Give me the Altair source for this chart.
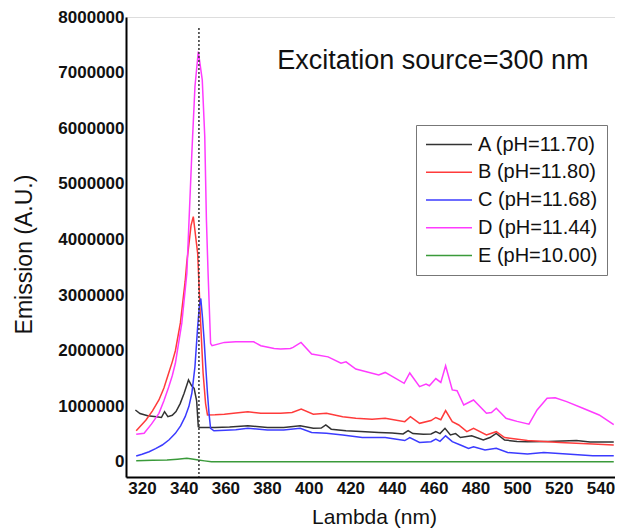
import altair as alt
import pandas as pd

# ---- data ----
series_labels = ["A (pH=11.70)", "B (pH=11.80)", "C (pH=11.68)", "D (pH=11.44)", "E (pH=10.00)"]
series_colors = ["#333333", "#ff3b3b", "#3b3bff", "#ff3bff", "#3a9a3a"]

a_lambda = [316.8, 319, 322.7, 326.9, 329.3, 330.8, 332.4, 334.5, 336.3, 338.3, 340.2, 342.3, 343.8, 345.0, 346.2, 347.0,
            347.8, 355, 362, 370.8, 380.2, 388, 395.9, 402.2, 406, 408.2, 410.8, 417.9, 425, 433.6, 440, 445.3,
            447.7, 450, 455, 458.7, 461, 463, 465.4, 468, 470.5, 472.8, 478.2, 483.8, 487, 490, 494, 500, 505,
            515, 528.5, 535, 546.4]
a_value = [0.935, 0.87, 0.83, 0.815, 0.80, 0.905, 0.815, 0.84, 0.905, 1.05, 1.235, 1.475, 1.37, 1.325, 1.1, 0.635,
           0.62, 0.62, 0.63, 0.65, 0.62, 0.62, 0.65, 0.605, 0.61, 0.665, 0.59, 0.56, 0.55, 0.53, 0.52, 0.505,
           0.565, 0.51, 0.5, 0.505, 0.545, 0.51, 0.605, 0.485, 0.51, 0.44, 0.47, 0.395, 0.44, 0.515, 0.395, 0.37,
           0.365, 0.37, 0.385, 0.36, 0.36]

b_lambda = [317.2, 321.9, 325, 328.1, 330.5, 332.8, 334.5, 336, 338.4, 340.7, 341.5, 342.3, 343.5, 344.6, 345.9,
            346.7, 348, 349.3, 350.5, 351.4, 355, 359.5, 365, 370.8, 377, 386.5, 392, 396.4, 402.2, 408.5, 416.3,
            422.6, 430.4, 436.7, 446.1, 448.8, 453.2, 458.7, 461, 463.4, 465.7, 468.9, 472, 475.9, 479.1, 485.3,
            490, 494, 505, 520.6, 536.3, 546.4]
b_value = [0.56, 0.755, 0.92, 1.115, 1.33, 1.6, 1.8, 2.0, 2.5, 3.25, 3.6, 3.85, 4.25, 4.41, 4.0,
           3.75, 2.6, 1.6, 1.05, 0.845, 0.85, 0.86, 0.88, 0.905, 0.875, 0.875, 0.89, 0.95, 0.86, 0.875, 0.815,
           0.785, 0.77, 0.785, 0.725, 0.815, 0.695, 0.745, 0.8, 0.76, 0.925, 0.725, 0.665, 0.545, 0.605, 0.485,
           0.545, 0.44, 0.385, 0.35, 0.325, 0.305]

c_lambda = [317.2, 320, 323.4, 326.5, 329.7, 333, 336, 338.5, 340.7, 342.5, 343.9, 345.4, 346.7, 347.5, 348.2, 349,
            349.8, 350.6, 351.4, 352.2, 352.9, 354.5, 360, 365, 370.8, 380.2, 388, 395.9, 401.4, 408.5, 416.3,
            425.7, 436.7, 446.1, 448.5, 453.2, 458.7, 461, 463, 465.7, 468.9, 472.8, 476.7, 479.1, 484.6, 490,
            495.5, 505, 512.8, 523.8, 536.3, 546.4]
c_value = [0.108, 0.14, 0.185, 0.24, 0.305, 0.4, 0.515, 0.65, 0.815, 1.0, 1.235, 1.715, 2.43, 2.8, 2.94, 2.6,
           2.19, 1.7, 1.235, 0.85, 0.605, 0.56, 0.57, 0.58, 0.605, 0.575, 0.575, 0.605, 0.53, 0.515, 0.485,
           0.44, 0.44, 0.385, 0.44, 0.35, 0.365, 0.41, 0.37, 0.47, 0.365, 0.305, 0.245, 0.275, 0.215, 0.245,
           0.17, 0.145, 0.17, 0.145, 0.11, 0.11]

d_lambda = [317.2, 321, 324.5, 328.1, 330.5, 332.8, 334.5, 336, 339.1, 341.5, 342.3, 343.9, 345.4, 347, 348.9,
            350.1, 350.9, 351.7, 352.9, 353.6, 359.5, 365, 369.3, 373.6, 377, 383.4, 386.5, 391.2, 392.5, 396.3,
            401.4, 409.3, 415.5, 417.9, 422.6, 433.6, 436.7, 445.8, 448.5, 453.2, 456.3, 457.9, 461, 463.4, 465.7,
            468.9, 471.2, 474.4, 479.1, 485.3, 487.7, 490, 494.7, 500, 505.7, 509.6, 514.4, 518.3, 523.8, 531.6,
            539.4, 546.4]
d_value = [0.5, 0.515, 0.68, 0.875, 1.1, 1.35, 1.55, 1.775, 2.5, 3.39, 4.11, 5.55, 6.75, 7.38, 6.87,
           5.85, 4.35, 3.39, 2.13, 2.09, 2.15, 2.16, 2.16, 2.16, 2.09, 2.04, 2.03, 2.04, 2.06, 2.15,
           1.94, 1.89, 1.775, 1.8, 1.67, 1.565, 1.61, 1.415, 1.6, 1.355, 1.4, 1.37, 1.5, 1.43, 1.73,
           1.295, 1.28, 1.025, 1.115, 0.875, 0.89, 0.965, 0.785, 0.73, 0.68, 0.935, 1.145, 1.155, 1.085, 0.965,
           0.845, 0.67]

e_lambda = [317.2, 325, 332, 337, 341.5, 344, 347, 350, 353.3, 400, 450, 500, 546.4]
e_value = [0.02, 0.03, 0.035, 0.05, 0.066, 0.055, 0.035, 0.02, 0.005, 0.005, 0.005, 0.005, 0.005]

x_ticks = [320, 340, 360, 380, 400, 420, 440, 460, 480, 500, 520, 540]
y_ticks = [0, 1000000, 2000000, 3000000, 4000000, 5000000, 6000000, 7000000, 8000000]

marker_lambda = [347.3]
marker_top = [7800000]
note_text = ["Excitation source=300 nm"]
note_lambda = [459.6]
note_value = [7200000]

X_DOMAIN = [312.3, 547.0]
Y_DOMAIN = [-270000, 8000000]
FONT = "Liberation Sans"

# ---- build tables ----
rows = []
for lab, lams, vals in zip(series_labels,
                           [a_lambda, b_lambda, c_lambda, d_lambda, e_lambda],
                           [a_value, b_value, c_value, d_value, e_value]):
    for i, (l, v) in enumerate(zip(lams, vals)):
        rows.append({"series": lab, "lambda": l, "emission": v * 1e6, "order": i})
df = pd.DataFrame(rows)

marker_df = pd.DataFrame({"lambda": marker_lambda, "top": marker_top, "bottom": [Y_DOMAIN[0]]})
note_df = pd.DataFrame({"lambda": note_lambda, "value": note_value, "text": note_text})

x_scale = alt.Scale(domain=X_DOMAIN, nice=False, zero=False)
y_scale = alt.Scale(domain=Y_DOMAIN, nice=False, zero=False)

x_axis = alt.Axis(values=x_ticks, format="d", title="Lambda (nm)", grid=False, ticks=False,
                  labelFont=FONT, labelFontSize=17, labelFontWeight="bold", labelColor="#111",
                  labelPadding=3, labelFlush=False,
                  domainColor="black", domainWidth=2,
                  titleFont=FONT, titleFontSize=21, titleFontWeight="normal", titleColor="#111",
                  titleX=248, titleY=46, titleBaseline="alphabetic")
y_axis = alt.Axis(values=y_ticks, format="d", title="Emission (A.U.)", grid=False, ticks=False,
                  labelFont=FONT, labelFontSize=17, labelFontWeight="bold", labelColor="#111",
                  labelPadding=2, labelFlush=False,
                  domainColor="black", domainWidth=2,
                  titleFont=FONT, titleFontSize=23, titleFontWeight="normal", titleColor="#111",
                  titleX=-102, titleY=237, titleAlign="center", titleBaseline="middle")

lines = alt.Chart(df).mark_line(strokeWidth=1.5, clip=True).encode(
    x=alt.X("lambda:Q", scale=x_scale, axis=x_axis),
    y=alt.Y("emission:Q", scale=y_scale, axis=y_axis),
    color=alt.Color("series:N",
                    scale=alt.Scale(domain=series_labels, range=series_colors),
                    legend=alt.Legend(title=None, orient="none", legendX=290, legendY=108,
                                      symbolType="stroke", symbolSize=2116, symbolStrokeWidth=1.5,
                                      clipHeight=21, rowPadding=6.75,
                                      labelFont=FONT, labelFontSize=20, labelColor="#111",
                                      labelOffset=5, padding=9,
                                      strokeColor="#777", fillColor="white")),
    order="order:Q",
)

marker = alt.Chart(marker_df).mark_rule(strokeDash=[2, 2], color="#333", strokeWidth=1.5).encode(
    x="lambda:Q", y="top:Q", y2="bottom:Q")

note = alt.Chart(note_df).mark_text(font=FONT, fontSize=27, color="#111", align="center",
                                    baseline="middle").encode(
    x="lambda:Q", y="value:Q", text="text:N")

chart = alt.layer(lines, marker, note).properties(
    width=489, height=460,
    autosize=alt.AutoSizeParams(type="none"),
    padding={"left": 118, "top": 9, "right": 0, "bottom": 52},
).configure_view(stroke=None).configure(background="white")

chart.save("out.html", embed_options={"renderer": "svg", "actions": False})
